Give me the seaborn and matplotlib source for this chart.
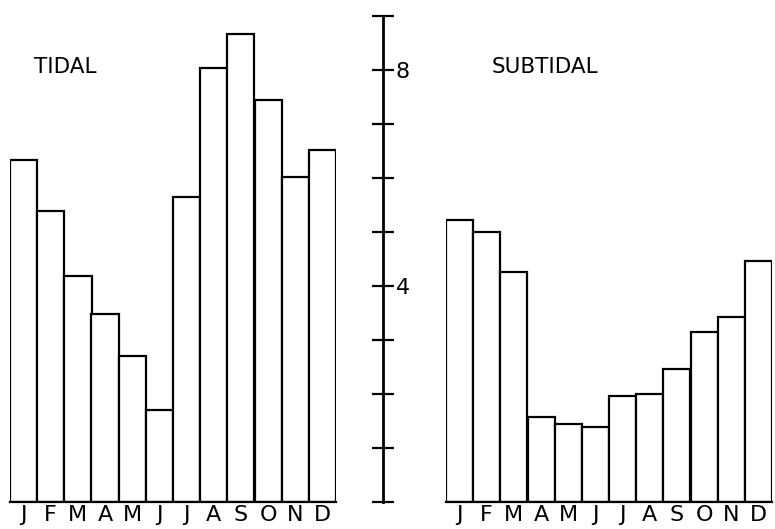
import pandas as pd
import matplotlib.pyplot as plt
import seaborn as sns

sns.set_style("white")
plt.rcParams['font.family'] = ['DejaVu Sans']
plt.rcParams['text.color'] = 'black'
plt.rcParams['xtick.color'] = 'black'
plt.rcParams['ytick.color'] = 'black'

months = ["J", "F", "M", "A", "M", "J", "J", "A", "S", "O", "N", "D"]
tidal = [6.33, 5.39, 4.19, 3.48, 2.70, 1.70, 5.65, 8.04, 8.67, 7.44, 6.02, 6.52]
subtidal = [5.22, 5.00, 4.26, 1.57, 1.45, 1.38, 1.97, 2.00, 2.47, 3.14, 3.43, 4.46]
scale_ticks = list(range(0, 10))
scale_labels = ["", "", "", "", "4", "", "", "", "8", ""]

W, H = 775, 529


def draw_panel(ax, values, title, title_x):
    df = pd.DataFrame({"idx": range(len(months)), "value": values})
    sns.barplot(data=df, x="idx", y="value", ax=ax, color="white",
                edgecolor="black", linewidth=1.6, width=1.0, saturation=1)
    ax.set_xlim(-0.5, len(months) - 0.5)
    ax.set_ylim(0, 9)
    ax.set_xticks(range(len(months)))
    ax.set_xticklabels(months, fontsize=16)
    ax.tick_params(axis="x", length=0, pad=2)
    ax.set_yticks([])
    ax.set_xlabel("")
    ax.set_ylabel("")
    for s in ["top", "right", "left"]:
        ax.spines[s].set_visible(False)
    ax.spines["bottom"].set_color("black")
    ax.spines["bottom"].set_linewidth(1.6)
    ax.text(title_x, 0.895, title, transform=ax.transAxes, fontsize=15.5,
            va="center", ha="left")


fig = plt.figure(figsize=(W / 100, H / 100), dpi=100)
bottom = (H - 502) / H
height = 486 / H

ax_left = fig.add_axes([10 / W, bottom, 326 / W, height])
ax_right = fig.add_axes([446 / W, bottom, 326 / W, height])
ax_scale = fig.add_axes([382 / W, bottom, 1 / W, height])

draw_panel(ax_left, tidal, "TIDAL", 0.074)
draw_panel(ax_right, subtidal, "SUBTIDAL", 0.141)

# central scale
ax_scale.set_ylim(0, 9)
ax_scale.set_xticks([])
ax_scale.set_facecolor("none")
for s in ["top", "left", "bottom"]:
    ax_scale.spines[s].set_visible(False)
ax_scale.spines["right"].set_color("black")
ax_scale.spines["right"].set_linewidth(2)
ax_scale.yaxis.tick_right()
ax_scale.set_yticks(scale_ticks)
ax_scale.set_yticklabels(scale_labels, fontsize=16)
ax_scale.tick_params(axis="y", direction="inout", length=16, width=1.6,
                     color="black", pad=1, left=False, right=True)

fig.savefig("out.png", dpi=100)
